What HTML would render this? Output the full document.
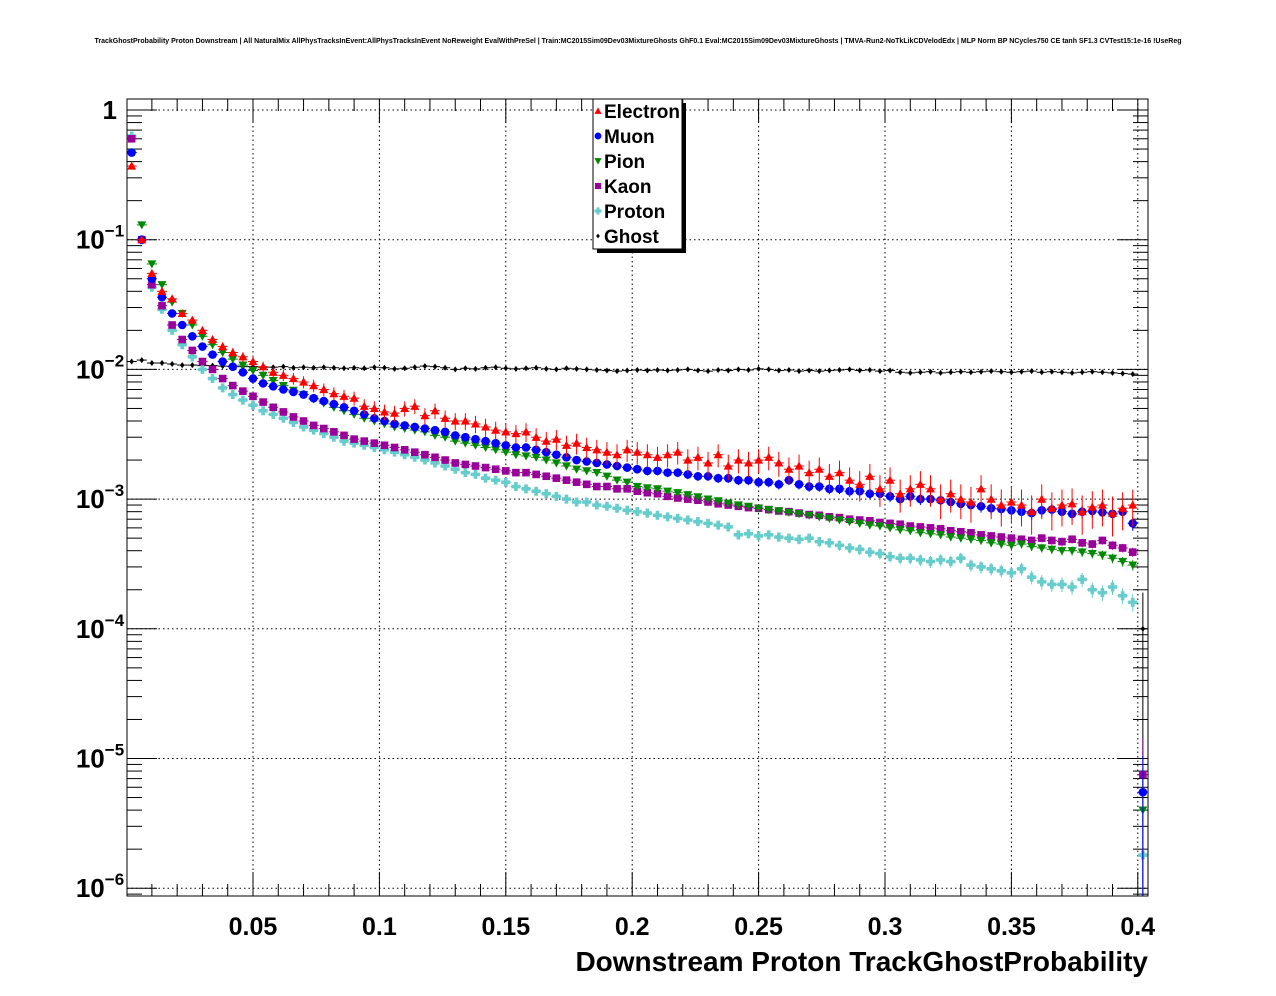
<!DOCTYPE html>
<html><head><meta charset="utf-8">
<style>
html,body{margin:0;padding:0;background:#fff;}
svg{display:block;font-family:"Liberation Sans",sans-serif;}
</style></head>
<body>
<svg id="plot" width="1276" height="996" viewBox="0 0 1276 996" xmlns="http://www.w3.org/2000/svg">
<rect width="1276" height="996" fill="#fff"/>
<text x="638" y="43" font-size="7" font-weight="bold" text-anchor="middle">TrackGhostProbability Proton Downstream | All NaturalMix AllPhysTracksInEvent:AllPhysTracksInEvent NoReweight EvalWithPreSel | Train:MC2015Sim09Dev03MixtureGhosts GhF0.1 Eval:MC2015Sim09Dev03MixtureGhosts | TMVA-Run2-NoTkLikCDVelodEdx | MLP Norm BP NCycles750 CE tanh SF1.3 CVTest15:1e-16 !UseReg</text>
<g id="grid"></g>
<g id="ticks"></g>
<g id="marks"></g>
<rect x="127" y="99" width="1021" height="797" fill="none" stroke="#000" stroke-width="1"/>
<g id="labels" font-weight="bold"></g>
<text x="1148" y="971" font-size="28" font-weight="bold" text-anchor="end">Downstream Proton TrackGhostProbability</text>
<g id="legend">
<rect x="597" y="103" width="89" height="150" fill="#000"/>
<rect x="593" y="99" width="89" height="150" fill="#fff" stroke="#000" stroke-width="1"/>
</g>
</svg>
<script>
const UNIT = 1e-4;
const xTickLabels = ["0.05","0.1","0.15","0.2","0.25","0.3","0.35","0.4"];
const xTickValues = [0.05,0.1,0.15,0.2,0.25,0.3,0.35,0.4];
const yDecades = [0,-1,-2,-3,-4,-5,-6];
const seriesNames = ["Electron","Muon","Pion","Kaon","Proton","Ghost"];
const electron = [3700,1000,550,400,350,270,240,200,170,150,
 135,125,115,105,95,90,85,80,75,70,
 65,62,60,52,50,47,46,50,52,44,
 48,42,40,40,38,36,34,33,32,33,
 30,28,29,26,27,25,24,23,22,24,
 23,22,21,22,23,20,21,19,22,18,
 20,19,20,21,19,17,18,16,17,15,
 16,14,13,15,12,14,11,12,13,12,
 10,11,10,9.5,12,10,9,9.5,9,8,
 10,8.5,9,9.2,8,8.7,9,7.8,8.5,9,0];
const muon = [4700,1000,500,360,270,220,180,150,130,115,
 105,95,85,78,74,70,67,64,60,57,
 54,51,48,45,42,40,38,37,36,35,
 34,33,31,30,29,28,27,26,25,25,
 24,23,22,21,20,19.5,19,18.5,18,17.5,
 17,16.5,16.5,16,16,15.5,15,15,14.5,14.5,
 14,14,13.5,13.5,13,14,13,12.5,12.5,12,
 12,11.5,11.5,11,11,10.5,10,10.5,10,10,
 9.8,9.5,9.2,9,8.8,8.5,8.4,8.2,8,7.8,
 8.2,8.3,8,7.7,8,8.1,7.9,7.7,8,6.5,0.055];
const pion = [4700,1300,650,450,330,270,220,180,155,135,
 120,108,98,90,82,75,69,64,59,55,
 51,48,45,42,40,38,36,35,34,33,
 31,30,28,27,26,25,24,23,22,21.5,
 21,20,19,18,17,16.5,16,15,14,13.5,
 12.5,12.2,12,11.5,11.2,10.8,10.4,10,9.7,9.3,
 9,8.8,8.5,8.3,8.1,7.9,7.7,7.5,7.3,7.1,
 6.9,6.7,6.5,6.3,6.2,6,5.8,5.7,5.5,5.4,
 5.3,5.1,5,4.9,4.8,4.6,4.5,4.4,4.5,4.3,
 4.2,4.1,4,4,3.9,3.8,3.7,3.5,3.3,3.1,0.04];
const kaon = [6000,1000,450,310,220,170,140,115,100,85,
 75,68,62,56,51,47,43,40,37,35,
 33,31,29,28,27,26,25,24,23,22,
 21,20,19,18.5,18,17.5,17,16.5,16,16,
 15.5,15,14.5,14,13.5,13,12.5,12.5,12,12,
 11.5,11.2,11,10.5,10.2,10,9.8,9.5,9.2,9,
 8.8,8.6,8.5,8.3,8.1,8,7.8,7.6,7.5,7.3,
 7.2,7,6.9,6.8,6.6,6.5,6.4,6.2,6.1,6,
 5.9,5.7,5.6,5.5,5.3,5.2,5.1,5,4.9,4.8,
 5,4.8,4.7,4.9,4.6,4.5,4.8,4.4,4.2,3.9,0.075];
const proton = [6300,1000,430,290,200,155,125,100,85,72,
 64,58,53,48,45,42,39,36,34,32,
 30,28,27,26,25,24,23,22,21,20,
 19,18,17,16,15.5,14.5,14,13.5,12.5,12,
 11.5,11,10.5,10,9.5,9.5,9,8.8,8.5,8.2,
 8,7.8,7.5,7.3,7.1,6.9,6.7,6.5,6.3,6.1,
 5.3,5.4,5.2,5.3,5.1,5.0,4.9,5.0,4.7,4.6,
 4.4,4.2,4.1,3.9,3.8,3.6,3.5,3.5,3.4,3.3,
 3.4,3.3,3.5,3.1,3.0,2.9,2.8,2.7,2.9,2.5,
 2.3,2.2,2.2,2.1,2.4,2.0,1.9,2.1,1.8,1.6,0.018];
const ghost = [115,118,112,112,110,108,108,107,107,106,
 106,105,105,104,104,105,103,104,103,104,
 103,102,103,102,104,103,101,102,104,106,
 105,103,100,102,101,103,104,102,101,102,
 103,101,100,102,101,100,99,98,97,98,
 99,98,99,98,99,100,98,97,99,98,
 100,99,101,100,98,99,97,98,97,98,
 99,100,98,99,97,98,95,94,95,96,
 94,95,96,95,96,97,96,95,96,97,
 95,96,95,94,95,96,95,94,93,92,1];

const NS="http://www.w3.org/2000/svg";
const X0=126.6, XPX=126.4/0.05, Y0=110, DEC=129.7;
const FL=127, FR=1148, FT=99, FB=896;
const BINW=0.004;
function xs(v){return X0+v*XPX;}
function ys(v){return Y0-Math.log10(v)*DEC;}
function mk(tag,attrs,parent){const e=document.createElementNS(NS,tag);for(const k in attrs)e.setAttribute(k,attrs[k]);parent.appendChild(e);return e;}

const grid=document.getElementById('grid');
const ticks=document.getElementById('ticks');
const labels=document.getElementById('labels');
xTickValues.forEach((v,i)=>{
  const x=xs(v);
  const g=mk('line',{x1:x,x2:x,y1:FT,y2:FB,stroke:'#000','stroke-dasharray':'1.5,3','stroke-width':1},grid);
  
  
  const t=mk('text',{x:x,y:935,'font-size':25,'text-anchor':'middle'},labels);
  t.textContent=xTickLabels[i];
  
  
});
for(let k=1;k<=40;k++){
  const v=k*0.01, x=xs(v); if(x>FR) break;
  const len=(k%5===0)?24:12;
  mk('line',{x1:x,x2:x,y1:FB,y2:FB-len,stroke:'#000'},ticks);
  mk('line',{x1:x,x2:x,y1:FT,y2:FT+len,stroke:'#000'},ticks);
}
yDecades.forEach(d=>{
  const y=ys(Math.pow(10,d));
  const g=mk('line',{x1:FL,x2:FR,y1:y,y2:y,stroke:'#000','stroke-dasharray':'1.5,3','stroke-width':1},grid);
  
  
  const t=mk('text',{x:117,y:y+9,'font-size':26,'text-anchor':'end'},labels);
  
  
  if(d===0){t.textContent='1';}
  else{
    t.textContent='10';
    const s=mk('tspan',{dy:-12,'font-size':17},t);
    s.textContent=String.fromCharCode(8722)+Math.abs(d);
    t.setAttribute('text-anchor','middle');
    t.setAttribute('x',100);
  }
});
for(let d=1;d>=-7;d--){
  for(let m=1;m<10;m++){
    const v=m*Math.pow(10,d); const y=ys(v);
    if(y<FT||y>FB) continue;
    const len=(m===1)?30:15;
    mk('line',{x1:FL,x2:FL+len,y1:y,y2:y,stroke:'#000'},ticks);
    mk('line',{x1:FR,x2:FR-len,y1:y,y2:y,stroke:'#000'},ticks);
  }
}

function marker(g,type,x,y,c){
  const s=4.5;
  if(type==='tu') mk('polygon',{points:`${x},${y-s} ${x-s},${y+s*0.8} ${x+s},${y+s*0.8}`,fill:c},g);
  else if(type==='td') mk('polygon',{points:`${x},${y+s} ${x-s},${y-s*0.8} ${x+s},${y-s*0.8}`,fill:c},g);
  else if(type==='c') mk('circle',{cx:x,cy:y,r:4.3,fill:c},g);
  else if(type==='s') mk('rect',{x:x-3.8,y:y-3.8,width:7.6,height:7.6,fill:c},g);
  else if(type==='p') mk('path',{d:`M${x-1.8},${y-4.5}h3.6v2.7h2.7v3.6h-2.7v2.7h-3.6v-2.7h-2.7v-3.6h2.7z`,fill:c},g);
  else if(type==='d') mk('polygon',{points:`${x},${y-3} ${x-2.3},${y} ${x},${y+3} ${x+2.3},${y}`,fill:c},g);
}
const styles=[
 {data:electron,color:'#ff0000',type:'tu',rel:0.3},
 {data:muon,color:'#0000ff',type:'c',rel:0.1},
 {data:pion,color:'#008800',type:'td',rel:0.05},
 {data:kaon,color:'#990099',type:'s',rel:0.05},
 {data:proton,color:'#66cccc',type:'p',rel:0.06},
 {data:ghost,color:'#000000',type:'d',rel:0.01}
];
const marks=document.getElementById('marks');
const order=[5,4,3,2,1,0];
order.forEach(si=>{
  const st=styles[si];
  const g=mk('g',{},marks);
  
  
  st.data.forEach((raw,i)=>{
    if(!(raw>0)) return;
    const v=raw*UNIT;
    const xc=xs((i+0.5)*BINW), xl=xs(i*BINW), xr=xs((i+1)*BINW);
    const y=ys(v);
    if(y>FB||y<FT) return;
    let re=st.rel*Math.sqrt(0.001/v); if(re>0.6) re=0.6;
    if(i===100) re=0.9;
    const yt=Math.max(FT,ys(v*(1+re))), yb=Math.min(FB,ys(Math.max(v*(1-re),1e-7)));
    mk('line',{x1:xl,x2:xr,y1:y,y2:y,stroke:st.color,'stroke-width':1},g);
    if(yb-yt>3) mk('line',{x1:xc,x2:xc,y1:yt,y2:yb,stroke:st.color,'stroke-width':1},g);
    marker(g,st.type,xc,y,st.color);
  });
});

const lg=document.getElementById('legend');
seriesNames.forEach((n,i)=>{
  const y=111+i*25;
  const e=mk('g',{},lg);
  
  
  const st=styles[i];
  const g2=mk('g',{transform:`translate(598,${y}) scale(0.8) translate(-598,${-y})`},e);
  marker(g2,st.type,598,y,st.color);
  const t=mk('text',{x:604,y:y+7,'font-size':19,'font-weight':'bold'},e);
  t.textContent=n;
});
</script>
</body></html>
